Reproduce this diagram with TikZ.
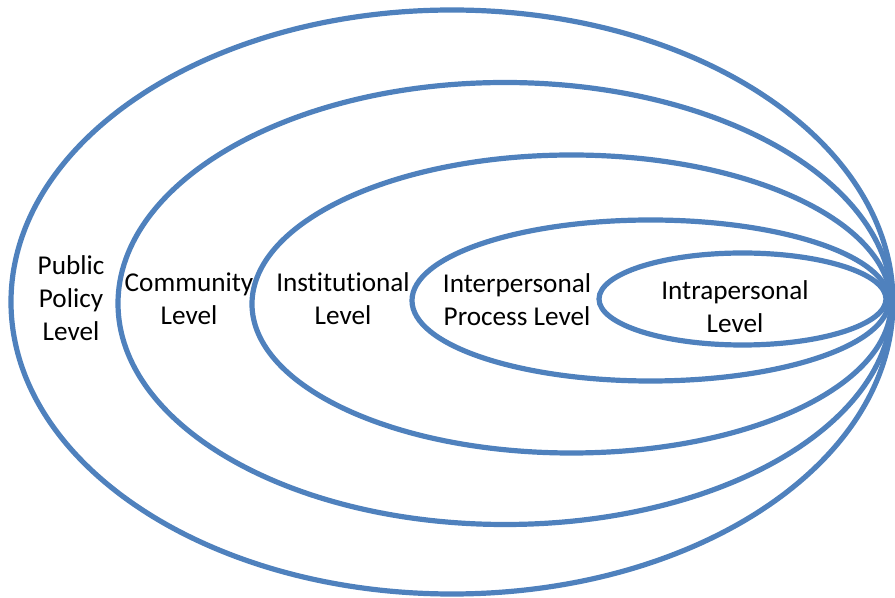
\documentclass[tikz,border=0pt]{standalone}
\usepackage{fontspec}
\setmainfont[Ligatures=NoCommon]{Carlito}
\usetikzlibrary{shapes.geometric}
\definecolor{levelblue}{HTML}{4F81BD}
\begin{document}
\begin{tikzpicture}[x=0.5pt, y=-0.5pt,
    ring/.style = {draw=levelblue, line width=2.6pt, ellipse, inner sep=0pt},
    label/.style = {align=center, font=\fontsize{13.6}{16.5}\selectfont}]
    \useasboundingbox (0,0) rectangle (895,598);
    % nested levels, all touching at the right
    \node[ring, minimum width=441pt, minimum height=292pt] (policy) at (452,302) {};
    \node[ring, minimum width=387pt, minimum height=221pt] (community) at (505,303.5) {};
    \node[ring, minimum width=319.5pt, minimum height=149pt] (institution) at (571.5,304) {};
    \node[ring, minimum width=238.5pt, minimum height=80.5pt] (interpersonal) at (650.5,300.5) {};
    \node[ring, minimum width=143.5pt, minimum height=46pt] (intrapersonal) at (742.5,299) {};
    % level names
    \node[label] (policytext) at (71,298) {Public\\Policy\\Level};
    \node[label] (communitytext) at (189,299) {Community\\Level};
    \node[label] (institutiontext) at (343,299) {Institutional\\Level};
    \node[label] (interpersonaltext) at (517,300) {Interpersonal\\Process Level};
    \node[label] (intrapersonaltext) at (735,307) {Intrapersonal\\Level};
\end{tikzpicture}
\end{document}
